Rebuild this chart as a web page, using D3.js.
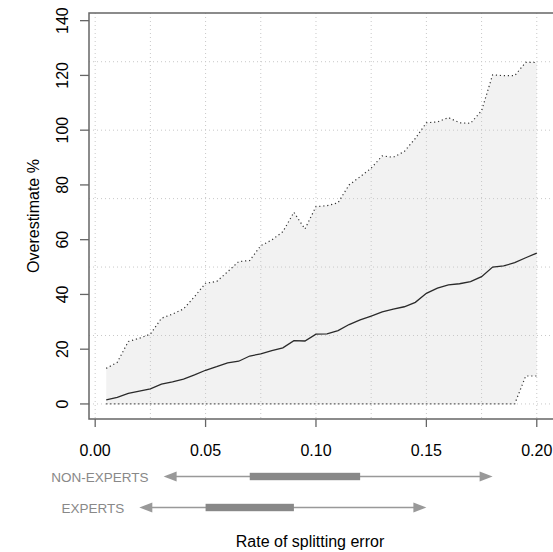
<!DOCTYPE html>
<html>
<head>
<meta charset="utf-8">
<script src="https://cdn.jsdelivr.net/npm/d3@7"></script>
<style>
  body { margin: 0; background: #fff; }
  text { font-family: "Liberation Sans", Arial, Helvetica, sans-serif; }
</style>
</head>
<body>
<div id="chart"></div>
<script>
// data
var rate = [0.005, 0.010, 0.015, 0.020, 0.025, 0.030, 0.035, 0.040, 0.045, 0.050,
            0.055, 0.060, 0.065, 0.070, 0.075, 0.080, 0.085, 0.090, 0.095, 0.100,
            0.105, 0.110, 0.115, 0.120, 0.125, 0.130, 0.135, 0.140, 0.145, 0.150,
            0.155, 0.160, 0.165, 0.170, 0.175, 0.180, 0.185, 0.190, 0.195, 0.200];
var upper = [13.0, 15.2, 22.8, 24.0, 25.5, 31.3, 32.8, 34.7, 39.2, 44.1,
             44.7, 48.3, 52.0, 52.4, 57.8, 59.9, 62.9, 70.0, 63.9, 72.1,
             72.4, 73.5, 80.0, 83.0, 86.1, 90.6, 90.1, 92.2, 97.0, 102.7,
             103.0, 104.6, 102.7, 102.5, 107.1, 120.2, 119.9, 119.9, 124.8, 124.7];
var mean = [1.5, 2.4, 3.9, 4.7, 5.5, 7.2, 8.1, 9.1, 10.6, 12.3,
            13.6, 15.0, 15.6, 17.5, 18.3, 19.5, 20.5, 23.1, 23.0, 25.5,
            25.6, 26.8, 29.0, 30.7, 32.1, 33.6, 34.6, 35.5, 37.1, 40.4,
            42.3, 43.5, 43.9, 44.7, 46.5, 50.0, 50.4, 51.6, 53.4, 55.1];
var lower = [0, 0, 0, 0, 0, 0, 0, 0, 0, 0,
             0, 0, 0, 0, 0, 0, 0, 0, 0, 0,
             0, 0, 0, 0, 0, 0, 0, 0, 0, 0,
             0, 0, 0, 0, 0, 0, 0, 0, 10.2, 10.2];

var xTicks = [0, 0.05, 0.10, 0.15, 0.20];
var yTicks = [0, 20, 40, 60, 80, 100, 120, 140];
var xGrid = [0, 0.025, 0.05, 0.075, 0.10, 0.125, 0.15, 0.175, 0.20];
var yGrid = [0, 25, 50, 75, 100, 125];

// ranges of splitting error: [arrow from, arrow to, bar from, bar to]
var groups = ["NON-EXPERTS", "EXPERTS"];
var rangeLo = [0.031, 0.020];
var rangeHi = [0.180, 0.150];
var boxLo = [0.070, 0.050];
var boxHi = [0.120, 0.090];

var w = 553, h = 552;
var pLeft = 89, pRight = 554, pTop = 13, pBottom = 419;

var svg = d3.select("#chart").append("svg")
    .attr("width", w)
    .attr("height", h);

var x = d3.scaleLinear().domain([-0.0028, 0.2078]).range([pLeft, pRight]);
var y = d3.scaleLinear().domain([-5.5, 142.8]).range([pBottom, pTop]);

var pts = rate.map(function(d, i) {
    return { x: d, hi: upper[i], m: mean[i], lo: lower[i] };
});

// shaded band
var area = d3.area()
    .x(function(d) { return x(d.x); })
    .y0(function(d) { return y(d.lo); })
    .y1(function(d) { return y(d.hi); });

svg.append("path")
    .datum(pts)
    .attr("d", area)
    .attr("fill", "#f2f2f2");

// grid
svg.selectAll(".vgrid")
    .data(xGrid).enter()
    .append("line")
    .attr("x1", function(d) { return x(d); })
    .attr("x2", function(d) { return x(d); })
    .attr("y1", pTop)
    .attr("y2", pBottom)
    .attr("stroke", "#c8c8c8")
    .attr("stroke-dasharray", "1,3");

svg.selectAll(".hgrid")
    .data(yGrid).enter()
    .append("line")
    .attr("x1", pLeft)
    .attr("x2", pRight)
    .attr("y1", function(d) { return y(d); })
    .attr("y2", function(d) { return y(d); })
    .attr("stroke", "#c8c8c8")
    .attr("stroke-dasharray", "1,3");

// band edges
var lineHi = d3.line().x(function(d) { return x(d.x); }).y(function(d) { return y(d.hi); });
var lineLo = d3.line().x(function(d) { return x(d.x); }).y(function(d) { return y(d.lo); });
var lineM = d3.line().x(function(d) { return x(d.x); }).y(function(d) { return y(d.m); });

svg.append("path").datum(pts).attr("d", lineHi)
    .attr("fill", "none").attr("stroke", "#333").attr("stroke-width", 1.2)
    .attr("stroke-dasharray", "1.2,2.8");
svg.append("path").datum(pts).attr("d", lineLo)
    .attr("fill", "none").attr("stroke", "#333").attr("stroke-width", 1.2)
    .attr("stroke-dasharray", "1.2,2.8");
svg.append("path").datum(pts).attr("d", lineM)
    .attr("fill", "none").attr("stroke", "#2a2a2a").attr("stroke-width", 1.3);

// box
svg.append("path")
    .attr("d", "M" + pRight + "," + pTop + "H" + pLeft + "V" + pBottom + "H" + pRight)
    .attr("fill", "none")
    .attr("stroke", "#666")
    .attr("stroke-width", 1.5);

// x axis
svg.selectAll(".xtick")
    .data(xTicks).enter()
    .append("line")
    .attr("x1", function(d) { return x(d); })
    .attr("x2", function(d) { return x(d); })
    .attr("y1", pBottom)
    .attr("y2", pBottom + 8)
    .attr("stroke", "#666")
    .attr("stroke-width", 1.3);

svg.selectAll(".xlab")
    .data(xTicks).enter()
    .append("text")
    .attr("x", function(d) { return x(d); })
    .attr("y", 456)
    .attr("text-anchor", "middle")
    .style("font-size", "16px")
    .text(function(d) { return d3.format(".2f")(d); });

// y axis
svg.selectAll(".ytick")
    .data(yTicks).enter()
    .append("line")
    .attr("x1", pLeft - 9)
    .attr("x2", pLeft)
    .attr("y1", function(d) { return y(d); })
    .attr("y2", function(d) { return y(d); })
    .attr("stroke", "#666")
    .attr("stroke-width", 1.3);

svg.selectAll(".ylab")
    .data(yTicks).enter()
    .append("text")
    .attr("transform", function(d) { return "translate(68," + y(d) + ") rotate(-90)"; })
    .attr("text-anchor", "middle")
    .style("font-size", "16px")
    .text(function(d) { return d; });

svg.append("text")
    .attr("transform", "translate(39,216) rotate(-90)")
    .attr("text-anchor", "middle")
    .style("font-size", "16px")
    .text("Overestimate %");

svg.append("text")
    .attr("x", 310)
    .attr("y", 547)
    .attr("text-anchor", "middle")
    .style("font-size", "16px")
    .text("Rate of splitting error");

// expert / non-expert ranges
var rowY = [476.5, 507.5];

groups.forEach(function(g, i) {
    var yy = rowY[i];
    var x0 = x(rangeLo[i]), x1 = x(rangeHi[i]);
    svg.append("line")
        .attr("x1", x0 + 10).attr("x2", x1 - 10)
        .attr("y1", yy).attr("y2", yy)
        .attr("stroke", "#999").attr("stroke-width", 1.5);
    svg.append("path")
        .attr("d", "M" + x0 + "," + yy + "l13,-5v10z")
        .attr("fill", "#999");
    svg.append("path")
        .attr("d", "M" + x1 + "," + yy + "l-13,-5v10z")
        .attr("fill", "#999");
    svg.append("rect")
        .attr("x", x(boxLo[i]))
        .attr("width", x(boxHi[i]) - x(boxLo[i]))
        .attr("y", yy - 3.7)
        .attr("height", 7.4)
        .attr("fill", "#888");
    svg.append("text")
        .attr("x", x0 - 15)
        .attr("y", yy + 5)
        .attr("text-anchor", "end")
        .attr("fill", "#888")
        .style("font-size", "13.5px")
        .text(g);
});
</script>
</body>
</html>
